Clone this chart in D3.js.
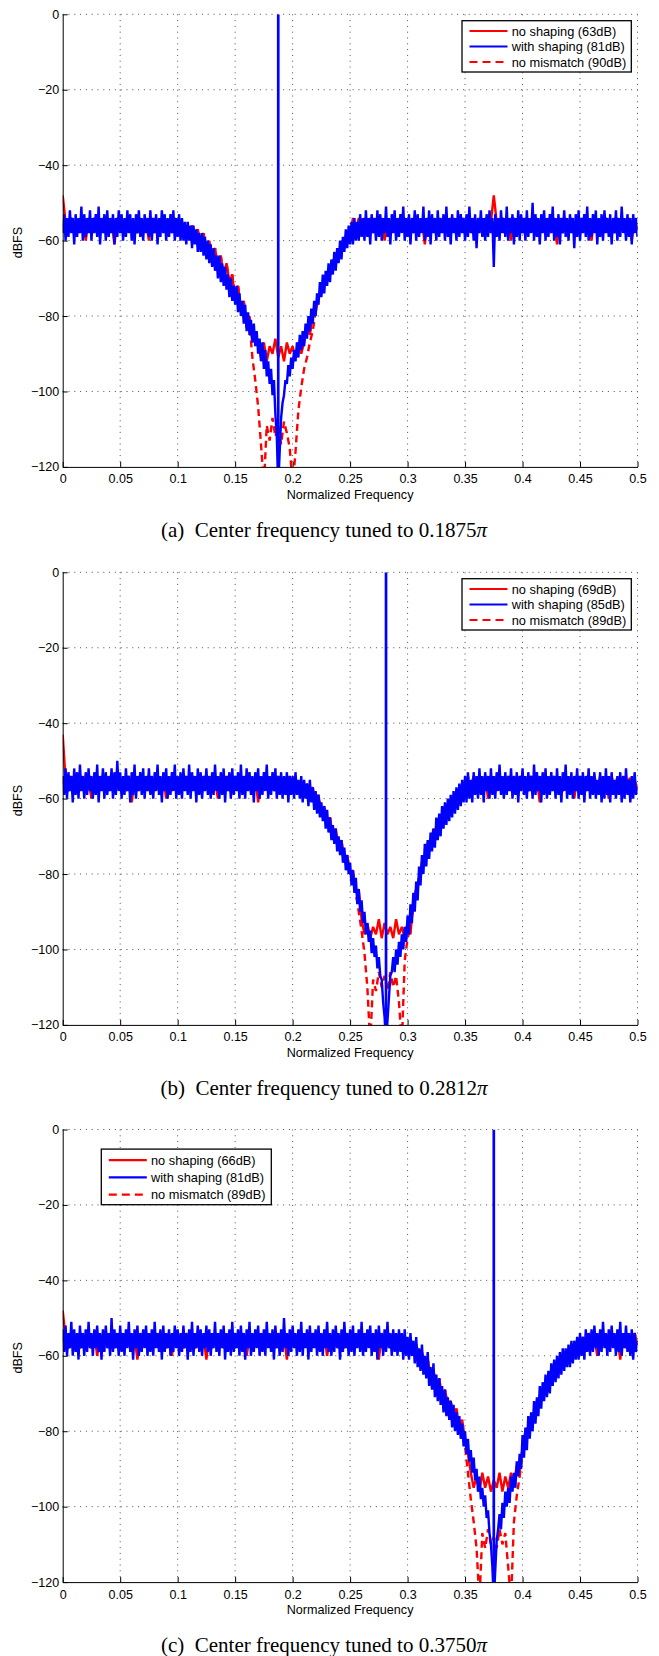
<!DOCTYPE html>
<html>
<head>
<meta charset="utf-8">
<script src="https://cdn.jsdelivr.net/npm/d3@7"></script>
<style>
  body { margin: 0; background: #fff; }
  svg { display: block; }
</style>
</head>
<body>
<svg id="fig" width="659" height="1656"></svg>
<script>
// Bin spacing (normalized frequency) of the stored spectra:
// the shaped spectra are kept at a finer resolution than the two red references.
const fineStep = 0.00125;
const coarseStep = 0.0025;

// ---- (a) tuned to 0.1875π ----
const noShaping1 = [
  -48,-55,-58,-54,-57,-55,-58,-54,-60,-55,-57,-54,-58,-55,-57,-54,-58,-55,-61,-54,
  -57,-55,-58,-54,-57,-55,-58,-54,-57,-55,-60,-54,-58,-55,-57,-54,-58,-55,-57,-54,
  -58,-55,-57,-56,-59,-56,-59,-57,-61,-58,-64,-60,-65,-62,-67,-64,-70,-66,-71,-69,
  -76,-72,-78,-76,-83,-80,-87,-85,-88,-91,-87,-92,-88,-90,-86,-91,-88,-92,-87,-90,
  -88,-91,-87,-90,-87,-83,-85,-80,-79,-75,-74,-71,-70,-67,-68,-64,-64,-61,-62,-59,
  -59,-55,-58,-54,-57,-55,-58,-54,-57,-55,-58,-54,-60,-55,-57,-54,-58,-55,-57,-54,
  -58,-55,-57,-54,-58,-55,-61,-54,-57,-55,-58,-54,-57,-55,-58,-54,-57,-55,-58,-54,
  -57,-55,-58,-54,-57,-55,-58,-54,-57,-55,-48,-55,-58,-54,-57,-55,-60,-54,-57,-55,
  -58,-54,-57,-55,-58,-54,-57,-55,-58,-54,-57,-55,-61,-54,-58,-55,-57,-54,-58,-55,
  -57,-54,-58,-55,-60,-54,-57,-55,-58,-54,-57,-55,-58,-54,-57,-55,-58,-54,-60,-55,
  -57
];
const withShaping1 = [
  -58,-53,-60,-54,-59,-52,-58,-54,-61,-53,-59,-54,-58,-51,-60,-53,-59,-54,-58,-52,
  -60,-54,-58,-53,-59,-51,-61,-54,-58,-53,-60,-52,-59,-54,-58,-53,-61,-54,-59,-52,
  -58,-53,-60,-54,-59,-52,-58,-53,-60,-54,-61,-53,-58,-52,-59,-54,-60,-53,-58,-54,
  -59,-52,-60,-54,-58,-53,-61,-54,-59,-52,-58,-53,-60,-54,-59,-53,-58,-52,-60,-54,
  -59,-53,-60,-54,-60,-55,-61,-55,-60,-56,-62,-56,-61,-57,-63,-58,-63,-58,-64,-59,
  -65,-60,-66,-61,-67,-62,-68,-64,-70,-64,-71,-66,-72,-67,-73,-69,-75,-70,-76,-72,
  -77,-72,-79,-74,-80,-76,-82,-77,-84,-79,-85,-81,-87,-82,-88,-84,-90,-86,-92,-87,
  -94,-89,-96,-92,-98,-94,-101,-97,-106,-112,-125,-116,-107,-103,-101,-97,-98,-93,-96,-91,
  -94,-89,-92,-87,-91,-85,-89,-84,-88,-82,-86,-80,-84,-78,-82,-76,-80,-74,-77,-71,
  -75,-69,-74,-68,-72,-66,-71,-65,-69,-63,-68,-62,-66,-60,-65,-59,-63,-57,-62,-56,
  -61,-55,-61,-54,-60,-55,-60,-53,-59,-54,-60,-52,-59,-54,-61,-53,-58,-54,-60,-52,
  -59,-53,-60,-54,-58,-51,-59,-54,-61,-53,-58,-52,-60,-54,-59,-53,-58,-51,-60,-54,
  -59,-53,-61,-54,-58,-52,-60,-53,-59,-54,-58,-51,-60,-54,-59,-52,-61,-53,-58,-54,
  -60,-52,-59,-54,-58,-53,-60,-51,-59,-54,-61,-53,-58,-54,-60,-52,-59,-53,-58,-54,
  -60,-53,-59,-51,-58,-54,-60,-53,-62,-54,-58,-52,-59,-54,-60,-53,-59,-52,-58,-54,
  -67,-53,-59,-54,-60,-52,-58,-54,-59,-51,-60,-54,-58,-53,-61,-54,-59,-52,-60,-53,
  -58,-54,-60,-52,-59,-54,-58,-50,-60,-53,-59,-54,-61,-53,-58,-52,-60,-54,-59,-53,
  -58,-51,-60,-54,-59,-53,-61,-54,-58,-52,-59,-54,-60,-53,-58,-54,-62,-53,-59,-52,
  -60,-54,-58,-53,-59,-51,-60,-54,-59,-53,-58,-52,-61,-54,-59,-53,-60,-52,-58,-54,
  -59,-53,-61,-54,-58,-52,-60,-54,-59,-51,-58,-54,-60,-53,-59,-54,-61,-53,-58,-54,
  -59
];
const noMismatch1 = [
  -56,-55,-57,-54,-57,-55,-58,-54,-57,-55,-58,-54,-57,-55,-58,-54,-57,-55,-58,-54,
  -57,-55,-58,-54,-57,-56,-58,-54,-57,-55,-58,-54,-57,-55,-58,-55,-57,-55,-58,-54,
  -58,-55,-57,-56,-59,-56,-59,-57,-61,-58,-63,-60,-65,-62,-67,-64,-69,-66,-71,-69,
  -75,-72,-78,-76,-83,-82,-91,-97,-104,-114,-125,-109,-113,-107,-112,-109,-114,-108,-111,-115,
  -125,-116,-105,-99,-94,-91,-87,-84,-79,-75,-74,-71,-70,-67,-67,-64,-64,-61,-62,-59,
  -58,-54,-57,-55,-58,-54,-57,-55,-58,-54,-57,-56,-58,-54,-57,-55,-58,-54,-57,-55,
  -57,-55,-58,-54,-57,-55,-58,-54,-57,-55,-58,-54,-57,-56,-58,-54,-57,-55,-58,-54,
  -58,-54,-57,-55,-58,-54,-57,-55,-58,-54,-56,-55,-58,-54,-57,-55,-58,-54,-57,-55,
  -57,-55,-58,-54,-57,-56,-58,-54,-57,-55,-58,-54,-57,-55,-58,-54,-57,-55,-58,-54,
  -58,-54,-57,-55,-58,-54,-57,-55,-58,-54,-57,-55,-58,-54,-57,-56,-58,-54,-57,-55,
  -57
];

// ---- (b) tuned to 0.2812π ----
const noShaping2 = [
  -43,-55,-58,-54,-57,-55,-58,-54,-57,-55,-60,-54,-58,-55,-57,-54,-58,-55,-57,-54,
  -57,-55,-58,-54,-61,-55,-57,-54,-58,-55,-57,-54,-58,-55,-57,-54,-60,-55,-57,-54,
  -58,-55,-57,-54,-58,-55,-57,-54,-58,-55,-57,-54,-58,-55,-60,-54,-57,-55,-58,-54,
  -57,-55,-58,-54,-57,-55,-58,-54,-61,-55,-57,-54,-58,-55,-57,-54,-58,-55,-57,-54,
  -58,-55,-58,-56,-59,-56,-59,-57,-61,-59,-64,-62,-67,-65,-70,-68,-73,-71,-77,-75,
  -80,-79,-85,-84,-92,-96,-93,-97,-94,-96,-92,-97,-93,-96,-94,-97,-92,-96,-94,-97,
  -93,-96,-87,-84,-81,-77,-76,-72,-72,-68,-69,-65,-66,-62,-63,-60,-62,-58,-60,-57,
  -58,-55,-57,-54,-58,-55,-57,-54,-60,-55,-58,-54,-57,-55,-58,-54,-57,-55,-58,-54,
  -57,-55,-58,-54,-57,-55,-61,-54,-58,-55,-57,-54,-58,-55,-57,-54,-58,-55,-60,-54,
  -57,-55,-58,-54,-57,-55,-58,-54,-57,-55,-60,-54,-58,-55,-57,-54,-58,-55,-57,-55,
  -58
];
const withShaping2 = [
  -54,-59,-52,-60,-53,-58,-54,-61,-52,-59,-53,-60,-51,-58,-54,-60,-53,-59,-52,-58,
  -54,-60,-53,-59,-51,-61,-54,-58,-52,-60,-53,-59,-54,-58,-52,-60,-53,-59,-50,-58,
  -53,-60,-54,-59,-52,-58,-54,-61,-53,-59,-51,-60,-54,-58,-53,-59,-52,-60,-54,-58,
  -52,-59,-54,-60,-53,-58,-51,-59,-54,-61,-53,-58,-52,-60,-54,-59,-53,-58,-51,-60,
  -54,-59,-53,-60,-52,-58,-54,-59,-51,-60,-53,-58,-54,-61,-52,-59,-53,-60,-54,-58,
  -52,-59,-54,-60,-53,-59,-51,-58,-54,-60,-53,-59,-52,-61,-54,-58,-53,-60,-52,-59,
  -54,-58,-53,-60,-51,-59,-54,-60,-52,-58,-53,-59,-54,-61,-53,-58,-52,-60,-54,-59,
  -53,-58,-51,-60,-54,-59,-53,-58,-52,-60,-54,-59,-53,-60,-54,-59,-53,-61,-54,-59,
  -54,-60,-53,-59,-55,-60,-54,-61,-55,-60,-56,-62,-55,-61,-57,-63,-58,-64,-59,-65,
  -61,-66,-62,-68,-63,-69,-65,-71,-67,-72,-68,-74,-70,-75,-71,-77,-73,-79,-75,-80,
  -77,-83,-79,-85,-81,-88,-84,-90,-87,-93,-90,-96,-93,-98,-95,-101,-97,-102,-99,-105,
  -102,-107,-108,-114,-118,-125,-119,-113,-107,-106,-102,-106,-100,-104,-98,-102,-96,-100,-94,-98,
  -91,-96,-88,-93,-85,-90,-82,-87,-78,-83,-75,-80,-72,-78,-71,-76,-69,-74,-68,-73,
  -65,-71,-64,-70,-62,-68,-61,-67,-60,-66,-59,-65,-58,-64,-57,-63,-56,-62,-55,-61,
  -54,-61,-53,-60,-55,-61,-53,-59,-54,-60,-52,-59,-54,-61,-53,-58,-54,-60,-52,-59,
  -54,-60,-53,-58,-51,-59,-54,-60,-53,-59,-54,-58,-52,-60,-54,-59,-53,-61,-54,-58,
  -52,-59,-54,-60,-53,-58,-54,-60,-51,-59,-53,-58,-54,-61,-53,-59,-52,-60,-54,-59,
  -53,-58,-54,-60,-52,-59,-54,-61,-53,-58,-51,-60,-54,-59,-53,-60,-54,-58,-52,-60,
  -54,-59,-53,-61,-54,-58,-52,-60,-54,-59,-53,-60,-55,-59,-53,-61,-54,-60,-52,-59,
  -54,-61,-53,-59,-55,-60,-54,-59,-53,-61,-54,-60,-52,-59,-55,-61,-54,-60,-53,-59,
  -57
];
const noMismatch2 = [
  -56,-55,-58,-54,-57,-55,-58,-54,-57,-55,-58,-54,-57,-55,-58,-54,-57,-56,-58,-54,
  -57,-55,-58,-54,-57,-55,-58,-54,-57,-55,-58,-54,-57,-55,-58,-54,-57,-55,-58,-55,
  -58,-54,-57,-55,-58,-54,-57,-56,-58,-54,-57,-55,-58,-54,-57,-55,-58,-54,-57,-55,
  -57,-55,-58,-54,-57,-55,-58,-54,-57,-55,-58,-54,-57,-56,-58,-54,-57,-55,-58,-54,
  -58,-55,-58,-56,-59,-56,-59,-57,-61,-59,-64,-62,-67,-65,-70,-68,-73,-71,-77,-75,
  -80,-79,-85,-90,-95,-101,-110,-125,-108,-111,-106,-110,-107,-111,-106,-110,-107,-114,-125,-103,
  -97,-94,-89,-84,-81,-77,-76,-72,-72,-68,-69,-65,-66,-62,-63,-60,-62,-58,-60,-57,
  -58,-54,-57,-55,-58,-54,-57,-55,-58,-54,-57,-56,-58,-54,-57,-55,-58,-54,-57,-55,
  -57,-55,-58,-54,-57,-55,-58,-54,-57,-55,-58,-54,-57,-55,-58,-56,-57,-55,-58,-54,
  -58,-54,-57,-55,-58,-54,-57,-56,-58,-54,-57,-55,-58,-54,-57,-55,-58,-54,-57,-55,
  -57
];

// ---- (c) tuned to 0.3750π ----
const noShaping3 = [
  -48,-55,-58,-54,-57,-55,-58,-54,-57,-55,-58,-54,-60,-55,-57,-54,-58,-55,-57,-54,
  -58,-55,-57,-54,-58,-55,-61,-54,-57,-55,-58,-54,-57,-55,-58,-54,-57,-55,-60,-54,
  -57,-55,-58,-54,-57,-55,-58,-54,-57,-55,-61,-54,-58,-55,-57,-54,-58,-55,-57,-54,
  -58,-55,-57,-54,-60,-55,-58,-54,-57,-55,-58,-54,-57,-55,-58,-54,-57,-55,-61,-54,
  -57,-55,-58,-54,-57,-55,-58,-54,-57,-55,-58,-54,-60,-55,-57,-54,-58,-55,-57,-54,
  -58,-55,-57,-54,-58,-55,-57,-54,-58,-55,-61,-54,-57,-55,-58,-54,-57,-55,-58,-55,
  -57,-56,-58,-57,-60,-59,-62,-61,-65,-64,-68,-66,-71,-69,-73,-72,-76,-74,-79,-77,
  -83,-86,-91,-95,-92,-96,-91,-95,-92,-96,-93,-95,-91,-96,-92,-95,-91,-94,-89,-91,
  -84,-80,-79,-76,-75,-72,-71,-69,-68,-66,-65,-63,-63,-61,-61,-59,-60,-58,-58,-57,
  -57,-55,-58,-54,-57,-55,-60,-54,-57,-55,-58,-54,-57,-55,-61,-54,-58,-55,-57,-54,
  -57
];
const withShaping3 = [
  -53,-59,-52,-60,-54,-58,-51,-60,-53,-59,-54,-61,-52,-58,-54,-60,-53,-59,-51,-58,
  -54,-60,-53,-58,-52,-59,-54,-61,-53,-59,-52,-58,-54,-60,-50,-59,-53,-58,-54,-60,
  -52,-59,-54,-60,-53,-58,-51,-59,-54,-61,-53,-58,-52,-60,-54,-59,-53,-58,-52,-60,
  -54,-59,-53,-60,-51,-58,-54,-59,-53,-61,-52,-59,-54,-58,-53,-60,-54,-59,-52,-58,
  -53,-60,-54,-59,-52,-58,-54,-61,-53,-59,-51,-60,-54,-58,-52,-59,-53,-60,-54,-58,
  -52,-59,-53,-60,-54,-58,-51,-59,-54,-60,-53,-58,-52,-61,-54,-59,-53,-60,-51,-59,
  -54,-58,-53,-60,-52,-59,-54,-61,-53,-58,-51,-60,-54,-59,-53,-58,-52,-60,-54,-59,
  -53,-60,-51,-58,-54,-59,-53,-61,-52,-58,-54,-60,-53,-59,-50,-58,-54,-60,-53,-59,
  -52,-58,-54,-60,-53,-59,-51,-60,-54,-58,-53,-61,-52,-59,-54,-58,-53,-60,-52,-59,
  -54,-60,-53,-58,-51,-59,-54,-60,-53,-59,-52,-58,-54,-61,-53,-59,-51,-58,-54,-60,
  -53,-59,-52,-60,-54,-58,-53,-59,-51,-60,-54,-59,-53,-58,-52,-60,-54,-59,-53,-61,
  -52,-58,-54,-60,-53,-59,-51,-58,-54,-60,-53,-59,-54,-60,-53,-59,-54,-61,-53,-60,
  -55,-61,-54,-60,-56,-62,-55,-63,-58,-64,-57,-65,-60,-66,-59,-68,-63,-69,-62,-71,
  -65,-72,-66,-73,-68,-75,-69,-76,-71,-77,-72,-79,-73,-80,-75,-81,-76,-82,-78,-84,
  -80,-86,-82,-88,-85,-91,-87,-93,-90,-96,-92,-98,-95,-100,-97,-103,-101,-107,-110,-116,
  -125,-117,-109,-106,-102,-106,-99,-103,-96,-100,-95,-99,-92,-96,-91,-95,-88,-92,-86,-90,
  -81,-87,-79,-85,-76,-82,-75,-80,-72,-78,-71,-76,-68,-74,-67,-72,-65,-71,-64,-70,
  -62,-68,-61,-67,-60,-66,-59,-65,-58,-64,-58,-63,-57,-63,-56,-62,-56,-61,-55,-61,
  -54,-60,-55,-61,-53,-59,-54,-60,-53,-59,-52,-58,-54,-60,-53,-59,-51,-58,-54,-60,
  -53,-59,-52,-58,-54,-60,-53,-59,-51,-60,-54,-58,-52,-59,-54,-60,-53,-61,-54,-59,
  -56
];
const noMismatch3 = [
  -56,-55,-58,-54,-57,-55,-58,-54,-57,-55,-58,-54,-57,-56,-58,-54,-57,-55,-58,-54,
  -58,-54,-57,-55,-58,-54,-57,-55,-58,-54,-57,-55,-58,-54,-57,-55,-58,-56,-57,-55,
  -57,-55,-58,-54,-57,-55,-58,-54,-57,-56,-58,-54,-57,-55,-58,-54,-57,-55,-58,-54,
  -58,-54,-57,-55,-58,-54,-57,-55,-58,-54,-57,-55,-58,-54,-57,-56,-58,-54,-57,-55,
  -57,-55,-58,-54,-57,-56,-58,-54,-57,-55,-58,-54,-57,-55,-58,-54,-57,-55,-58,-54,
  -58,-54,-57,-55,-58,-54,-57,-55,-58,-56,-57,-55,-58,-54,-57,-55,-58,-54,-57,-55,
  -57,-56,-58,-57,-60,-59,-62,-61,-65,-64,-68,-66,-71,-69,-73,-72,-76,-74,-79,-77,
  -84,-91,-98,-104,-111,-125,-107,-111,-106,-110,-108,-111,-106,-110,-107,-116,-125,-104,-97,-92,
  -86,-80,-79,-76,-75,-72,-71,-69,-68,-66,-65,-63,-63,-61,-61,-59,-60,-58,-58,-57,
  -57,-55,-58,-54,-57,-56,-58,-54,-57,-55,-58,-54,-57,-55,-58,-54,-57,-56,-58,-54,
  -57
];

// Carrier tone of each run (frequency, level in dBFS)
const toneFreqs = [0.1875, 0.28125, 0.375];
const toneLevels = [0, 0, 0];

const seriesNames = ["no shaping", "with shaping", "no mismatch"];
const sndrValues = [[63, 81, 90], [69, 85, 89], [66, 81, 89]];
const captionTags = ["(a)", "(b)", "(c)"];
const captionFreqs = ["0.1875", "0.2812", "0.3750"];

const xTicks = [0, 0.05, 0.1, 0.15, 0.2, 0.25, 0.3, 0.35, 0.4, 0.45, 0.5];
const xTickLabels = ["0", "0.05", "0.1", "0.15", "0.2", "0.25", "0.3", "0.35", "0.4", "0.45", "0.5"];
const yTicks = [0, -20, -40, -60, -80, -100, -120];
const yTickLabels = ["0", "\u221220", "\u221240", "\u221260", "\u221280", "\u2212100", "\u2212120"];

// ---------------- layout ----------------
const svg = d3.select("#fig");
const sans = "'Liberation Sans', Arial, Helvetica, sans-serif";
const serif = "'Liberation Serif', 'Times New Roman', serif";
const plotLeft = 62.7, plotRight = 637.5, plotH = 452.6;
const panelTops = [14.3, 572.3, 1129.5];
const RED = "#ff0000", BLUE = "#0000ff";
const LW = 2.4;

const spectra = [
  { noShaping: noShaping1, withShaping: withShaping1, noMismatch: noMismatch1 },
  { noShaping: noShaping2, withShaping: withShaping2, noMismatch: noMismatch2 },
  { noShaping: noShaping3, withShaping: withShaping3, noMismatch: noMismatch3 }
];
// legend box placement inside each axes (left, top, row pitch)
const legendBoxes = [
  { x: 462, y: 6.4, w: 169.3, h: 51.3, row0: 10.3, pitch: 15.5 },
  { x: 462, y: 6.4, w: 169.3, h: 51.3, row0: 10.3, pitch: 15.5 },
  { x: 101.3, y: 19.6, w: 170, h: 55.6, row0: 11, pitch: 17.3 }
];

const x = d3.scaleLinear().domain([0, 0.5]).range([plotLeft, plotRight]);
const y = d3.scaleLinear().domain([-120, 0]).range([plotH, 0]);
const lineAt = step => d3.line().x((d, i) => x(i * step)).y(d => y(d));

spectra.forEach((s, p) => {
  const g = svg.append("g").attr("transform", `translate(0,${panelTops[p]})`);
  const clipId = `clip${p}`;
  g.append("clipPath").attr("id", clipId)
    .append("rect").attr("x", plotLeft).attr("y", 0)
    .attr("width", plotRight - plotLeft).attr("height", plotH);

  // dotted grid
  const grid = g.append("g").attr("stroke", "#3a3a3a").attr("stroke-width", 0.9)
    .attr("stroke-dasharray", "1,4.8");
  grid.selectAll("line.v").data(xTicks.filter(t => t > 0)).join("line")
    .attr("x1", d => x(d)).attr("x2", d => x(d)).attr("y1", 0).attr("y2", plotH);
  grid.selectAll("line.h").data(yTicks.filter(t => t > -120)).join("line")
    .attr("x1", plotLeft).attr("x2", plotRight).attr("y1", d => y(d)).attr("y2", d => y(d));

  const curves = g.append("g").attr("clip-path", `url(#${clipId})`)
    .attr("fill", "none").attr("stroke-linejoin", "miter").attr("stroke-miterlimit", 2);

  curves.append("path").datum(s.noMismatch).attr("d", lineAt(coarseStep))
    .attr("stroke", RED).attr("stroke-width", LW).attr("stroke-dasharray", "7,4.5");
  curves.append("path").datum(s.noShaping).attr("d", lineAt(coarseStep))
    .attr("stroke", RED).attr("stroke-width", LW);
  curves.append("path").datum(s.withShaping).attr("d", lineAt(fineStep))
    .attr("stroke", BLUE).attr("stroke-width", LW);
  // carrier tone
  curves.append("line")
    .attr("x1", x(toneFreqs[p])).attr("x2", x(toneFreqs[p]))
    .attr("y1", y(-120)).attr("y2", y(toneLevels[p]))
    .attr("stroke", BLUE).attr("stroke-width", 2.7);

  // axes
  const xAxis = d3.axisBottom(x).tickValues(xTicks).tickFormat((d, i) => xTickLabels[i])
    .tickSizeInner(-5).tickSizeOuter(0).tickPadding(7.6);
  const yAxis = d3.axisLeft(y).tickValues(yTicks).tickFormat((d, i) => yTickLabels[i])
    .tickSizeInner(-5).tickSizeOuter(0).tickPadding(3.6);
  const gx = g.append("g").attr("transform", `translate(0,${plotH})`).call(xAxis);
  const gy = g.append("g").attr("transform", `translate(${plotLeft},0)`).call(yAxis);
  [gx, gy].forEach(a => {
    a.attr("font-family", sans).attr("font-size", 12.5);
    a.select(".domain").attr("stroke", "#000").attr("stroke-width", 1);
    a.selectAll(".tick line").attr("stroke", "#000").attr("stroke-width", 1);
    a.selectAll(".tick text").attr("fill", "#000");
  });

  g.append("text").attr("x", (plotLeft + plotRight) / 2).attr("y", plotH + 32)
    .attr("text-anchor", "middle").attr("font-family", sans).attr("font-size", 12.6)
    .text("Normalized Frequency");
  g.append("text").attr("transform", `translate(21.7,${plotH / 2 + 2}) rotate(-90)`)
    .attr("text-anchor", "middle").attr("font-family", sans).attr("font-size", 12.6)
    .text("dBFS");

  // legend
  const lb = legendBoxes[p];
  const lg = g.append("g").attr("transform", `translate(${lb.x},${lb.y})`);
  lg.append("rect").attr("width", lb.w).attr("height", lb.h)
    .attr("fill", "#fff").attr("stroke", "#000").attr("stroke-width", 1.3);
  const styles = [
    { c: RED, dash: null }, { c: BLUE, dash: null }, { c: RED, dash: "8,5" }
  ];
  seriesNames.forEach((name, k) => {
    const ry = lb.row0 + k * lb.pitch;
    lg.append("line").attr("x1", 7.5).attr("x2", 45.5).attr("y1", ry).attr("y2", ry)
      .attr("stroke", styles[k].c).attr("stroke-width", 2.2)
      .attr("stroke-dasharray", styles[k].dash);
    lg.append("text").attr("x", 49.7).attr("y", ry + 4.6)
      .attr("font-family", sans).attr("font-size", 12.8)
      .text(`${name} (${sndrValues[p][k]}dB)`);
  });

  // caption
  const cap = g.append("text").attr("x", 324).attr("y", plotH + 70.3)
    .attr("text-anchor", "middle").attr("font-family", serif).attr("font-size", 21);
  cap.append("tspan").text(`${captionTags[p]}\u00a0\u00a0Center frequency tuned to ${captionFreqs[p]}`);
  cap.append("tspan").attr("font-style", "italic").text("\u03c0");
});
</script>
</body>
</html>
